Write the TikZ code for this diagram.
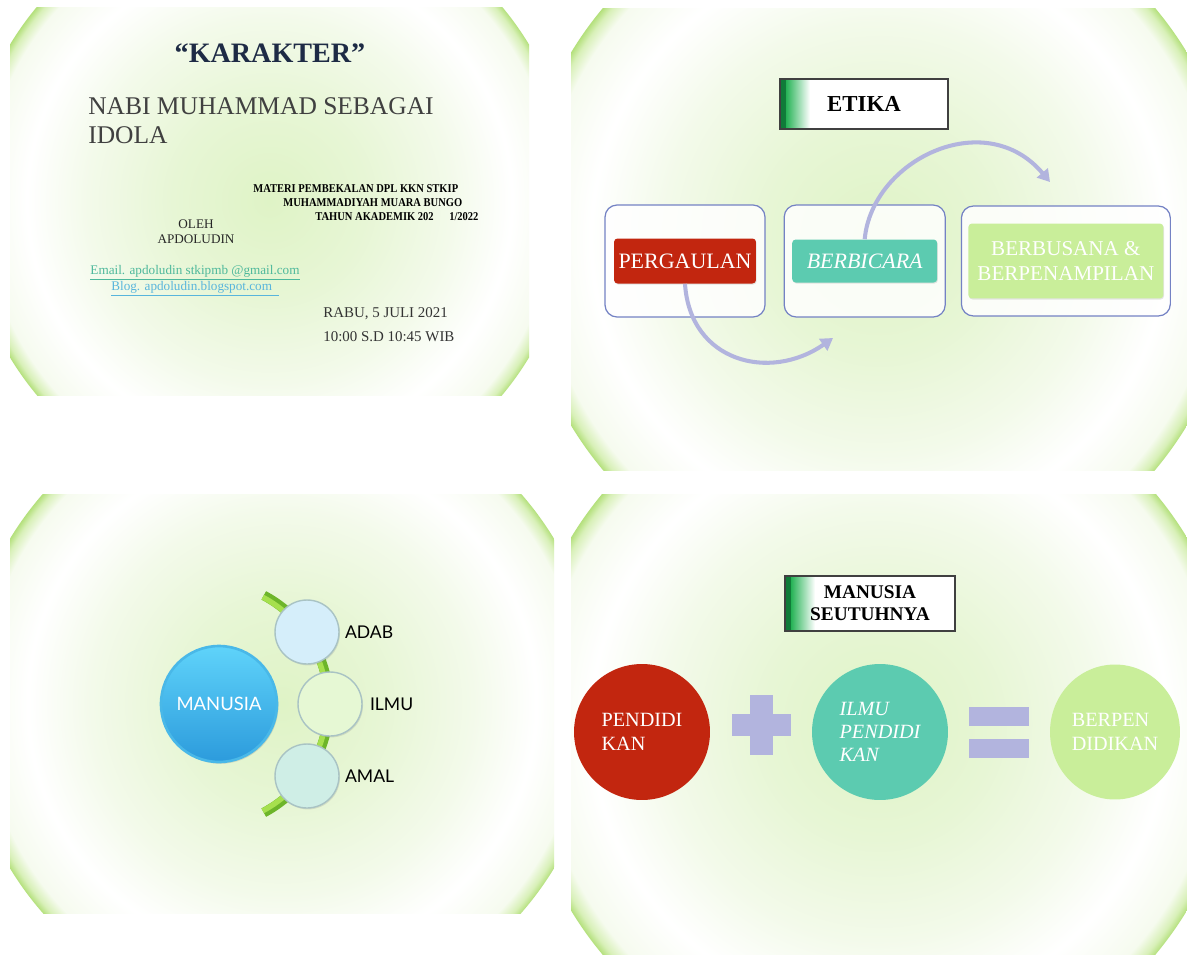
\documentclass[tikz,border=0pt]{standalone}
\usepackage{fontspec}
\setmainfont{Liberation Serif}
\newfontfamily\gillfont{Lato}
\newfontfamily\narrowbold[FakeStretch=0.88]{Liberation Serif Bold}
\usetikzlibrary{arrows.meta,positioning,shapes.geometric,calc,shadows}

\definecolor{glowA}{HTML}{DFF3C6}
\definecolor{glowB}{HTML}{E7F6D5}
\definecolor{glowC}{HTML}{F3FAEA}
\definecolor{glowD}{HTML}{F6FBEF}
\definecolor{glowE}{HTML}{D8F0B8}
\definecolor{glowF}{HTML}{B4E07C}
\definecolor{redc}{HTML}{C2260F}
\definecolor{tealc}{HTML}{5CCBB0}
\definecolor{limec}{HTML}{C9EE9A}
\definecolor{lav}{HTML}{B2B4DE}
\definecolor{boxline}{HTML}{7482C4}
\definecolor{navy}{HTML}{1E2B45}
\definecolor{mailc}{HTML}{4DB89B}
\definecolor{blogc}{HTML}{58B5DC}
\definecolor{tabdark}{HTML}{0F7A38}
\definecolor{tabgreen}{HTML}{26B356}
\definecolor{adabc}{HTML}{D5EEFA}
\definecolor{ilmuc}{HTML}{E6F8D4}
\definecolor{amalc}{HTML}{CFEEE6}
\definecolor{ballline}{HTML}{A9C3C4}
\definecolor{stemdark}{HTML}{6DB52A}
\definecolor{stemlight}{HTML}{A6E04E}
\definecolor{skytop}{HTML}{5FD3FA}
\definecolor{skybot}{HTML}{2C9BDC}
\definecolor{skyline}{HTML}{49B8E8}

\pgfdeclareradialshading{slideglow}{\pgfpointorigin}{%
  color(0bp)=(glowA); color(8bp)=(glowB); color(15bp)=(glowC);
  color(20bp)=(white); color(23.6bp)=(glowD); color(24.5bp)=(glowE);
  color(25bp)=(glowF); color(50bp)=(glowF)}

\begin{document}
\begin{tikzpicture}[
  x=0.02cm, y=-0.02cm,
  titletext/.style={font=\fontsize{16}{19}\selectfont\bfseries, text=navy, inner sep=0pt},
  subtext/.style={font=\fontsize{14.5}{16.5}\selectfont, text=black!75, align=left, inner sep=0pt},
  smallbold/.style={font=\narrowbold\fontsize{6.8}{8}\selectfont, inner sep=0pt},
  plain/.style={font=\fontsize{7.5}{8.5}\selectfont, align=center, inner sep=0pt, text=black!85},
  datetext/.style={font=\fontsize{8.5}{13.6}\selectfont, align=left, inner sep=0pt, text=black!80},
  titlebox/.style={draw=black!75, line width=0.6pt, fill=white, align=center, inner sep=0pt,
                   font=\fontsize{13}{14}\selectfont\bfseries,
                   path picture={
                     \shade[left color=tabdark, right color=tabgreen]
                       (path picture bounding box.south west) rectangle
                       ([xshift=0.12cm]path picture bounding box.north west);
                     \shade[left color=tabgreen, right color=white]
                       ([xshift=0.12cm]path picture bounding box.south west) rectangle
                       ([xshift=0.6cm]path picture bounding box.north west);}},
  outerbox/.style={draw=boxline, line width=0.7pt, fill=white, fill opacity=0.85,
                   rounded corners=0.24cm},
  innerbox/.style={rounded corners=2pt, text=white, align=center, inner sep=0pt,
                   font=\fontsize{12.5}{14}\selectfont,
                   drop shadow={opacity=0.2, shadow xshift=0.4pt, shadow yshift=-0.6pt}},
  flow/.style={draw=lav, line width=2.3pt, -{Triangle[length=2.4mm, width=2.8mm]}},
  bigball/.style={circle, minimum size=2.32cm, inner sep=0pt, text=white,
                  top color=skytop, bottom color=skybot, draw=skyline, line width=1.5pt,
                  font=\gillfont\fontsize{10.5}{12}\selectfont,
                  drop shadow={opacity=0.25, shadow xshift=0.8pt, shadow yshift=-1pt}},
  ball/.style={circle, minimum size=1.28cm, inner sep=0pt, draw=ballline, line width=0.8pt,
               drop shadow={opacity=0.2, shadow xshift=0.6pt, shadow yshift=-0.8pt}},
  balllab/.style={font=\gillfont\fontsize{10}{12}\selectfont, inner sep=0pt},
  disc/.style={circle, minimum size=2.72cm, inner sep=0pt, text=white, align=left,
               font=\fontsize{11.5}{13.3}\selectfont}
]

\useasboundingbox (0,0) rectangle (1187,954);
\fill[white] (0,0) rectangle (1187,954);

% slide backgrounds
\foreach \xa/\ya/\xb/\yb/\rad in {10/7/529/395/303, 571/8/1187/470/360,
                                 10/494/554/913/318, 571/494/1187/954/360}{
  \begin{scope}
    \clip (\xa,\ya) rectangle (\xb,\yb);
    \shade[shading=slideglow] ({(\xa+\xb)/2},{(\ya+\yb)/2}) circle[radius=\rad];
  \end{scope}
}

% slide 1
\node[titletext] (kar) at (270,53) {“KARAKTER”};
\node[subtext, anchor=north west] (idola) at (88,97) {NABI MUHAMMAD SEBAGAI\\IDOLA};
\node[smallbold, anchor=west] (mat1) at (253,189) {MATERI PEMBEKALAN DPL KKN STKIP};
\node[smallbold, anchor=west] (mat2) at (283,203) {MUHAMMADIYAH MUARA BUNGO};
\node[smallbold, anchor=west] (mat3) at (315,217) {TAHUN AKADEMIK 202\hspace{1.3em}1/2022};
\node[plain] (oleh) at (196,232) {OLEH\\APDOLUDIN};
\node[plain, font=\fontsize{7.5}{9}\selectfont] (mail) at (195,281)
  {\textcolor{mailc}{\underline{Email. apdoludin stkipmb @gmail.com}}\\
   \textcolor{blogc}{\underline{Blog. apdoludin.blogspot.com\ \ }}};
\node[datetext, anchor=north west] (date) at (323,307) {RABU, 5 JULI 2021\\10:00 S.D 10:45 WIB};

% slide 2
\node[titlebox, minimum width=3.36cm, minimum height=1cm] (etika) at (864,104) {ETIKA};
\node[outerbox, minimum width=3.2cm, minimum height=2.24cm] (boxA) at (685,261) {};
\node[outerbox, minimum width=3.22cm, minimum height=2.24cm, right=0.36cm of boxA] (boxB) {};
\node[outerbox, minimum width=4.18cm, minimum height=2.2cm, right=0.3cm of boxB] (boxC) {};
\node[innerbox, fill=redc, minimum width=2.84cm, minimum height=0.9cm] (perg) at (boxA) {PERGAULAN};
\node[innerbox, fill=tealc, minimum width=2.9cm, minimum height=0.86cm,
      font=\fontsize{12.5}{14}\selectfont\itshape] (berb) at (boxB) {BERBICARA};
\node[innerbox, fill=limec, minimum width=3.9cm, minimum height=1.5cm,
      font=\fontsize{12}{14}\selectfont] (busana) at (boxC) {BERBUSANA \&\\BERPENAMPILAN};
\coordinate (tipA) at (833,338);
\coordinate (tipB) at (1050,182);
\draw[flow] (perg.south) .. controls (690,362) and (770,382) .. (tipA);
\draw[flow] (berb.north) .. controls (872,160) and (985,105) .. (tipB);

% slide 3
\coordinate (hub) at (206,704);
\draw[stemdark, line width=5.5pt] (hub) ++(-62:123) arc[start angle=-62, end angle=62, radius=123];
\draw[stemlight, line width=3pt] (hub) ++(-62:121) arc[start angle=-62, end angle=62, radius=121];
\node[bigball] (man) at (219,704) {MANUSIA};
\node[ball, fill=adabc] (adab) at (307,632) {};
\node[ball, fill=ilmuc] (ilmu) at (330,704) {};
\node[ball, fill=amalc] (amal) at (307,776) {};
\node[balllab, right=0.1cm of adab] (adabl) {ADAB};
\node[balllab, right=0.14cm of ilmu] (ilmul) {ILMU};
\node[balllab, right=0.1cm of amal] (amall) {AMAL};

% slide 4
\node[titlebox, minimum width=3.4cm, minimum height=1.1cm,
      font=\fontsize{11}{12.5}\selectfont\bfseries] (seut) at (870,603.5) {MANUSIA\\SEUTUHNYA};
\node[disc, fill=redc] (pend) at (642,732) {PENDIDI\\KAN};
\node[disc, fill=tealc, font=\fontsize{11.5}{13.3}\selectfont\itshape] (ilpen) at (880,732) {ILMU\\PENDIDI\\KAN};
\node[disc, ellipse, fill=limec, minimum width=2.6cm, minimum height=2.7cm] (berp) at (1115,732) {BERPEN\\DIDIKAN};
\coordinate (plusc) at ($(pend.east)!0.5!(ilpen.west)+(0,-7)$);
\fill[lav] ($(plusc)+(-29.5,-11)$) rectangle ($(plusc)+(29.5,11)$);
\fill[lav] ($(plusc)+(-11.5,-30)$) rectangle ($(plusc)+(11.5,30)$);
\coordinate (eqc) at ($(ilpen.east)!0.5!(berp.west)$);
\fill[lav] ($(eqc)+(-30,-25)$) rectangle ($(eqc)+(30,-6)$);
\fill[lav] ($(eqc)+(-30,7)$) rectangle ($(eqc)+(30,26)$);
\end{tikzpicture}
\end{document}
